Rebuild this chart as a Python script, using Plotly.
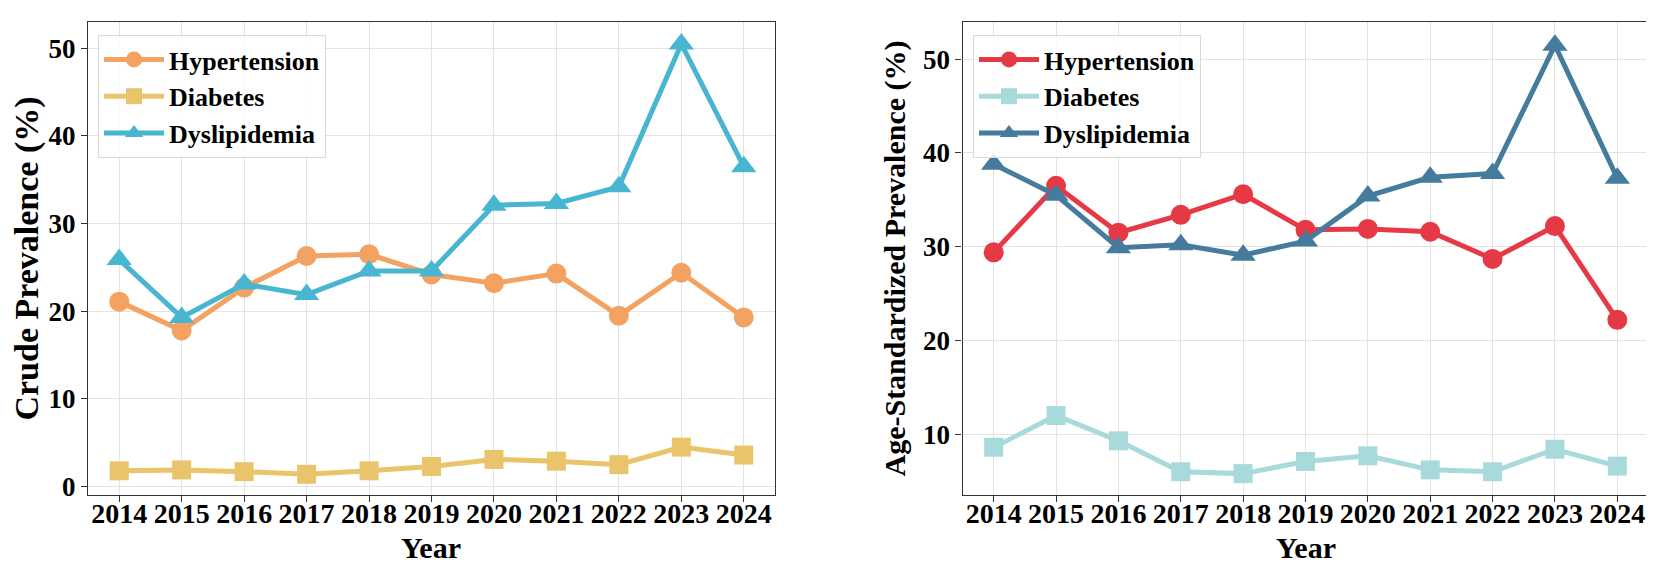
import plotly.graph_objects as go

years = [2014, 2015, 2016, 2017, 2018, 2019, 2020, 2021, 2022, 2023, 2024]

crude_hypertension = [21.1, 17.8, 22.7, 26.3, 26.5, 24.2, 23.2, 24.3, 19.5, 24.4, 19.3]
crude_diabetes = [1.8, 1.9, 1.7, 1.4, 1.8, 2.3, 3.1, 2.9, 2.5, 4.5, 3.6]
crude_dyslipidemia = [25.9, 19.3, 23.1, 21.9, 24.6, 24.6, 32.1, 32.3, 34.2, 50.5, 36.5]

std_hypertension = [29.4, 36.5, 31.5, 33.4, 35.6, 31.8, 31.9, 31.6, 28.7, 32.2, 22.2]
std_diabetes = [8.6, 12.0, 9.3, 6.0, 5.8, 7.1, 7.7, 6.2, 6.0, 8.4, 6.6]
std_dyslipidemia = [38.8, 35.5, 29.9, 30.2, 29.1, 30.6, 35.4, 37.4, 37.8, 51.5, 37.3]

series_names = ["Hypertension", "Diabetes", "Dyslipidemia"]
left_colors = ["#F4A261", "#E9C46A", "#48B6D0"]
right_colors = ["#E63946", "#A8DADC", "#457B9D"]
symbols = ["circle", "square", "triangle-up"]
msizes = [20, 19, 22]

x_title = "Year"
left_y_title = "Crude Prevalence (%)"
right_y_title = "Age-Standardized Prevalence (%)"

FONT = "Liberation Serif"

fig = go.Figure()

left_data = [crude_hypertension, crude_diabetes, crude_dyslipidemia]
right_data = [std_hypertension, std_diabetes, std_dyslipidemia]

for name, vals, col, sym, ms in zip(series_names, left_data, left_colors, symbols, msizes):
    fig.add_trace(go.Scatter(
        x=years, y=vals, name=name, mode="lines+markers",
        line=dict(color=col, width=5),
        marker=dict(symbol=sym, size=ms, color=col),
        xaxis="x", yaxis="y", legend="legend",
    ))

for name, vals, col, sym, ms in zip(series_names, right_data, right_colors, symbols, msizes):
    fig.add_trace(go.Scatter(
        x=years, y=vals, name=name, mode="lines+markers",
        line=dict(color=col, width=5),
        marker=dict(symbol=sym, size=ms, color=col),
        xaxis="x2", yaxis="y2", legend="legend2",
    ))

W, H = 1654, 564
TOP, BOTTOM = 14, 487
PH = BOTTOM - TOP
frame_col = "#333333"
grid_col = "#E3E3E3"

def xax(domain, anchor):
    return dict(
        domain=domain, anchor=anchor, range=[2013.5, 2024.5],
        tickmode="array", tickvals=years, ticktext=[str(y) for y in years],
        showline=True, mirror=True, linecolor=frame_col, linewidth=1.3,
        ticks="outside", ticklen=6, tickwidth=1.3, tickcolor=frame_col,
        showgrid=True, gridcolor=grid_col, gridwidth=1, zeroline=False,
        tickfont=dict(family=FONT, size=28, color="black", weight="bold"),
        ticklabelstandoff=-13,
        automargin=False,
    )

def yax(domain_anchor, rng, title, title_size, standoff):
    return dict(
        domain=[0, 1], anchor=domain_anchor, range=rng,
        tickmode="array", tickvals=[0, 10, 20, 30, 40, 50],
        showline=True, mirror=True, linecolor=frame_col, linewidth=1.3,
        ticks="outside", ticklen=6, tickwidth=1.3, tickcolor=frame_col,
        showgrid=True, gridcolor=grid_col, gridwidth=1, zeroline=False,
        tickfont=dict(family=FONT, size=27, color="black", weight="bold"),
        title=dict(text=title, font=dict(family=FONT, size=title_size, color="black", weight="bold"),
                   standoff=standoff),
        automargin=False,
    )

legend_common = dict(
    xanchor="left", yanchor="top",
    bgcolor="rgba(255,255,255,0.85)", bordercolor="#D9D9D9", borderwidth=1,
    font=dict(family=FONT, size=26, color="black", weight="bold"),
    itemwidth=60, tracegroupgap=0,
)

left_dom = [80 / W, 767 / W]
right_dom = [954.5 / W, 1640.5 / W]
title_y = -(539 - BOTTOM) / PH

fig.update_layout(
    width=W, height=H,
    margin=dict(l=0, r=0, t=TOP, b=H - BOTTOM),
    paper_bgcolor="white", plot_bgcolor="white",
    xaxis=xax(left_dom, "y"),
    yaxis=yax("x", [-0.96, 53.0], left_y_title, 34, 5),
    xaxis2=xax(right_dom, "y2"),
    yaxis2=yax("x2", [3.52, 53.97], right_y_title, 30, 8),
    legend=dict(x=90 / W, y=1 - (27 - TOP) / PH, **legend_common),
    legend2=dict(x=965 / W, y=1 - (27 - TOP) / PH, **legend_common),
    showlegend=True,
    annotations=[
        dict(text=x_title, xref="paper", yref="paper", x=sum(left_dom) / 2, y=title_y,
             xanchor="center", yanchor="middle", showarrow=False,
             font=dict(family=FONT, size=30, color="black", weight="bold")),
        dict(text=x_title, xref="paper", yref="paper", x=sum(right_dom) / 2, y=title_y,
             xanchor="center", yanchor="middle", showarrow=False,
             font=dict(family=FONT, size=30, color="black", weight="bold")),
    ],
)

fig.write_html("out.html")
